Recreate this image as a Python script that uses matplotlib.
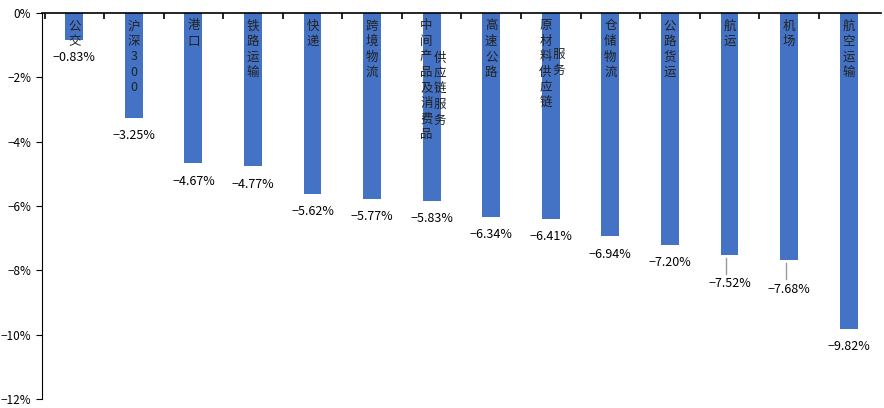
import matplotlib
matplotlib.use('Agg')
import matplotlib.pyplot as plt

plt.rcParams['font.family'] = ['Noto Sans CJK SC', 'DejaVu Sans']

# data
cols = [['公交'], ['沪深300'], ['港口'], ['铁路运输'], ['快递'], ['跨境物流'],
        ['中间产品及消费品', '供应链服务'], ['高速公路'], ['原材料供应链', '服务'],
        ['仓储物流'], ['公路货运'], ['航运'], ['机场'], ['航空运输']]
values = [-0.83, -3.25, -4.67, -4.77, -5.62, -5.77, -5.83, -6.34, -6.41,
          -6.94, -7.20, -7.52, -7.68, -9.82]
leader = [False] * 11 + [True, True, False]

fig = plt.figure(figsize=(8.84, 4.08), dpi=100)
ax = fig.add_axes([0.047, 0.022, 0.95, 0.946])
x = list(range(len(values)))
ax.bar(x, values, width=0.3, color='#4472C4')
ax.set_ylim(-12, 0)
ax.set_xlim(-0.55, len(values) - 0.45)
ax.set_yticks(range(-12, 1, 2))
ax.set_yticklabels([f'{t}%' if t == 0 else f'\u2212{-t}%' for t in range(-12, 1, 2)], fontsize=8.5)
ax.tick_params(axis='y', direction='out', length=4)
ax.xaxis.tick_top()
ax.set_xticks([i + 0.5 for i in x[:-1]] + [-0.5])
ax.set_xticklabels([])
ax.tick_params(axis='x', direction='in', length=4, width=1.2)
ax.spines['right'].set_visible(False)
ax.spines['bottom'].set_visible(False)
ax.spines['top'].set_linewidth(1.2)

for i, (c, v) in enumerate(zip(cols, values)):
    if len(c) == 1:
        ax.text(i, -0.2, '\n'.join(c[0]), ha='center', va='top', fontsize=9,
                linespacing=1.25, color='#222222')
    else:
        ax.text(i - 0.09, -0.2, '\n'.join(c[0]), ha='center', va='top', fontsize=9,
                linespacing=1.25, color='#222222')
        start = -1.2 if i == 6 else -1.1
        ax.text(i + 0.14, start, '\n'.join(c[1]), ha='center', va='top', fontsize=9,
                linespacing=1.25, color='#222222')
    lab = f'\u2212{-v:.2f}%'
    if leader[i]:
        ax.plot([i - 0.05, i - 0.05], [v - 0.1, v - 0.6], color='#999999', lw=1)
        ax.text(i, v - 0.7, lab, ha='center', va='top', fontsize=9)
    else:
        ax.text(i, v - 0.35, lab, ha='center', va='top', fontsize=9)

fig.savefig('out.png', dpi=100)
